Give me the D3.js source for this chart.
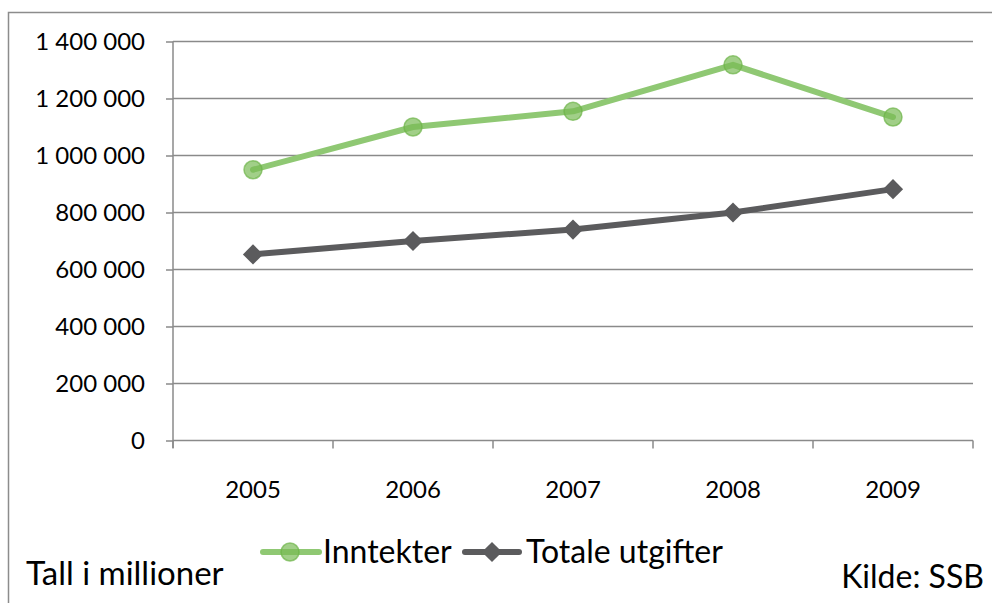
<!DOCTYPE html>
<html>
<head>
<meta charset="utf-8">
<script src="https://cdn.jsdelivr.net/npm/d3@7"></script>
<style>
  body { margin: 0; background: #fff; }
  svg { display: block; font-family: Lato, "Open Sans", sans-serif; }
</style>
</head>
<body>
<div id="body"></div>
<script>
// data (millioner kr)
var years = ["2005", "2006", "2007", "2008", "2009"];
var inntekter = [950000, 1100000, 1155000, 1318000, 1135000];
var utgifter = [653000, 700000, 740000, 800000, 882000];
var yTicks = [0, 200000, 400000, 600000, 800000, 1000000, 1200000, 1400000];

var W = 992, H = 603;
var svg = d3.select("#body").append("svg").attr("width", W).attr("height", H);

// outer frame
svg.append("rect")
  .attr("x", 8.5).attr("y", 12.5)
  .attr("width", 1000).attr("height", 700)
  .attr("fill", "none").attr("stroke", "#8c8c8c").attr("stroke-width", 1.5);

var x = d3.scaleBand().domain(years).range([173, 973]);
var y = d3.scaleLinear().domain([0, 1400000]).range([440.5, 41.5]);

var fmt = function(d){ return d3.format(",")(d).replace(/,/g, " "); };

// grid
svg.append("g").selectAll("line").data(yTicks).enter().append("line")
  .attr("x1", 173).attr("x2", 973)
  .attr("y1", function(d){ return y(d); }).attr("y2", function(d){ return y(d); })
  .attr("stroke", "#8a8a8a").attr("stroke-width", 1.5);

// y axis
var ya = svg.append("g").attr("transform", "translate(173,0)")
  .call(d3.axisLeft(y).tickValues(yTicks).tickSize(7).tickPadding(21).tickFormat(fmt));
ya.selectAll(".tick line").attr("stroke", "#8a8a8a").attr("stroke-width", 1.5);
ya.selectAll("text").attr("font-size", 24).attr("fill", "#000").attr("font-family", "Lato");
ya.select(".domain").remove();
svg.append("line").attr("x1", 173).attr("x2", 173).attr("y1", y(1400000)).attr("y2", 448)
  .attr("stroke", "#8a8a8a").attr("stroke-width", 1.5);

// x axis
var xa = svg.append("g").attr("transform", "translate(0," + y(0) + ")")
  .call(d3.axisBottom(x).tickSize(0).tickPadding(40));
xa.select(".domain").remove();
xa.selectAll("text").attr("font-size", 24).attr("fill", "#000").attr("font-family", "Lato");
var edges = years.map(function(d){ return x(d); }).concat([x.range()[1]]);
svg.append("g").selectAll("line").data(edges).enter().append("line")
  .attr("x1", function(d){ return d; }).attr("x2", function(d){ return d; })
  .attr("y1", y(0)).attr("y2", y(0) + 8)
  .attr("stroke", "#8a8a8a").attr("stroke-width", 1.5);

var cx = function(d, i){ return x(years[i]) + x.bandwidth() / 2; };
var line = d3.line().x(cx).y(function(d){ return y(d); });

var green = "#8fc873", greenDot = "#79bb55", greenEdge = "#6cb347";
var grey = "#5b5b5d";

// Totale utgifter
svg.append("path").datum(utgifter).attr("d", line)
  .attr("fill", "none").attr("stroke", grey).attr("stroke-width", 6).attr("stroke-linejoin", "round");
var diamond = d3.symbol().type(d3.symbolDiamond2).size(260);
svg.append("g").selectAll("path").data(utgifter).enter().append("path")
  .attr("d", diamond)
  .attr("transform", function(d, i){ return "translate(" + cx(d, i) + "," + y(d) + ")"; })
  .attr("fill", grey);

// Inntekter
svg.append("path").datum(inntekter).attr("d", line)
  .attr("fill", "none").attr("stroke", green).attr("stroke-width", 6)
  .attr("stroke-linejoin", "round").attr("stroke-linecap", "round");
svg.append("g").selectAll("circle").data(inntekter).enter().append("circle")
  .attr("cx", cx).attr("cy", function(d){ return y(d); }).attr("r", 9)
  .attr("fill", greenDot).attr("fill-opacity", 0.7)
  .attr("stroke", greenEdge).attr("stroke-opacity", 0.7).attr("stroke-width", 1.5);

// legend
var lg = svg.append("g");
lg.append("line").attr("x1", 263).attr("x2", 319).attr("y1", 552).attr("y2", 552)
  .attr("stroke", green).attr("stroke-width", 6).attr("stroke-linecap", "round");
lg.append("circle").attr("cx", 290).attr("cy", 552).attr("r", 9)
  .attr("fill", greenDot).attr("fill-opacity", 0.7)
  .attr("stroke", greenEdge).attr("stroke-opacity", 0.7).attr("stroke-width", 1.5);
lg.append("text").attr("x", 323).attr("y", 563).attr("font-size", 32).text("Inntekter");
lg.append("line").attr("x1", 465).attr("x2", 519).attr("y1", 552).attr("y2", 552)
  .attr("stroke", grey).attr("stroke-width", 6).attr("stroke-linecap", "round");
lg.append("path").attr("d", diamond)
  .attr("transform", "translate(492,552)").attr("fill", grey);
lg.append("text").attr("x", 526).attr("y", 563).attr("font-size", 32).text("Totale utgifter");

// notes
svg.append("text").attr("x", 26).attr("y", 585).attr("font-size", 33).text("Tall i millioner");
svg.append("text").attr("x", 984).attr("y", 588).attr("text-anchor", "end").attr("font-size", 32).text("Kilde: SSB");
</script>
</body>
</html>
